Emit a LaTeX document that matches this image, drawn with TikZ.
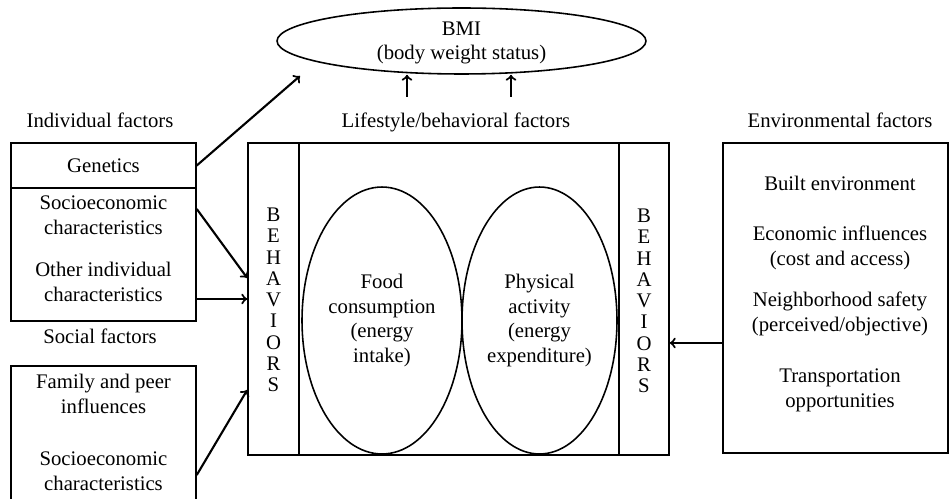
\documentclass[tikz,border=0pt]{standalone}
\usepackage{fontspec}
\setmainfont{Liberation Serif}
\usetikzlibrary{arrows,shapes.geometric,positioning,calc}
\tikzstyle{box} = [rectangle, draw, line width=0.9pt, inner sep=0pt]
\tikzstyle{oval} = [ellipse, draw, line width=0.9pt, inner sep=0pt, align=center]
\tikzstyle{txt} = [align=center, inner sep=0pt]
\tikzstyle{arrow} = [line width=1.2pt,->,>=to]
\def\letters{B\\E\\H\\A\\V\\I\\O\\R\\S}

\begin{document}
\begin{tikzpicture}[x=0.02cm, y=-0.02cm, every node/.style={font=\fontsize{11.8}{14.2}\selectfont}]
      \useasboundingbox (0,0) rectangle (950,499);
      % outcome
      \node[oval, minimum width=7.38cm, minimum height=1.32cm] (bmi) at (461.5,41) {};
      \node[txt] (bmitext) at (461.5,42.5) {BMI\\[-0.5pt](body weight status)};
      % headings
      \node[txt] (indiv) at (100,120) {Individual factors};
      \node[txt] (social) at (100,336) {Social factors};
      \node[txt] (life) at (456,122) {Lifestyle/behavioral factors};
      \node[txt] (env) at (840,120) {Environmental factors};
      % left boxes
      \node[box, minimum width=3.7cm, minimum height=0.9cm] (gen) at (103.5,165.5) {Genetics};
      \node[box, minimum width=3.7cm, minimum height=2.66cm] (indivbox) at (103.5,254.5) {};
      \node[txt] (socio1) at (103.5,215.5) {Socioeconomic\\characteristics};
      \node[txt] (other) at (103.5,281.5) {Other individual\\characteristics};
      \node[box, minimum width=3.7cm, minimum height=3.08cm] (socbox) at (103.5,443) {};
      \node[txt] (family) at (103.5,394) {Family and peer\\influences};
      \node[txt] (socio2) at (103.5,471.5) {Socioeconomic\\characteristics};
      % lifestyle block
      \node[box, minimum width=1.02cm, minimum height=6.24cm] (behL) at (273.5,299) {};
      \node[box, minimum width=6.4cm, minimum height=6.24cm] (mainbox) at (459,299) {};
      \node[box, minimum width=1.0cm, minimum height=6.24cm] (behR) at (644,299) {};
      \node[txt, font=\fontsize{11.8}{12.1}\selectfont] (lettersL) at (273.5,300) {\letters};
      \node[txt, font=\fontsize{11.8}{12.1}\selectfont] (lettersR) at (644,301) {\letters};
      \node[oval, minimum width=3.2cm, minimum height=5.34cm] (food) at (382,320.5) {Food\\consumption\\(energy\\intake)};
      \node[oval, minimum width=3.1cm, minimum height=5.34cm] (phys) at (539.5,320.5) {Physical\\activity\\(energy\\expenditure)};
      % environment box
      \node[box, minimum width=4.5cm, minimum height=6.2cm] (envbox) at (835.5,298) {};
      \node[txt] (built) at (840,183) {Built environment};
      \node[txt] (econ) at (840,247.5) {Economic influences\\(cost and access)};
      \node[txt] (safety) at (840,314) {Neighborhood safety\\(perceived/objective)};
      \node[txt] (transp) at (840,390) {Transportation\\opportunities};
      % arrows
      \coordinate (bmitip) at (300,76);
      \coordinate (u1) at (407,97);
      \coordinate (u2) at (511,97);
      \draw[arrow] (gen.east) -- (bmitip);
      \draw[arrow] (u1) -- (u1 |- bmi.south);
      \draw[arrow] (u2) -- (u2 |- bmi.south);
      \draw[arrow] (indivbox.east |- 0,209) -- (behL.west |- 0,278);
      \draw[arrow] (indivbox.east |- 0,299) -- (behL.west |- 0,299);
      \draw[arrow] (socbox.east |- 0,475) -- (behL.west |- 0,390);
      \draw[arrow] (envbox.west |- 0,343) -- (behR.east |- 0,343);
\end{tikzpicture}
\end{document}
